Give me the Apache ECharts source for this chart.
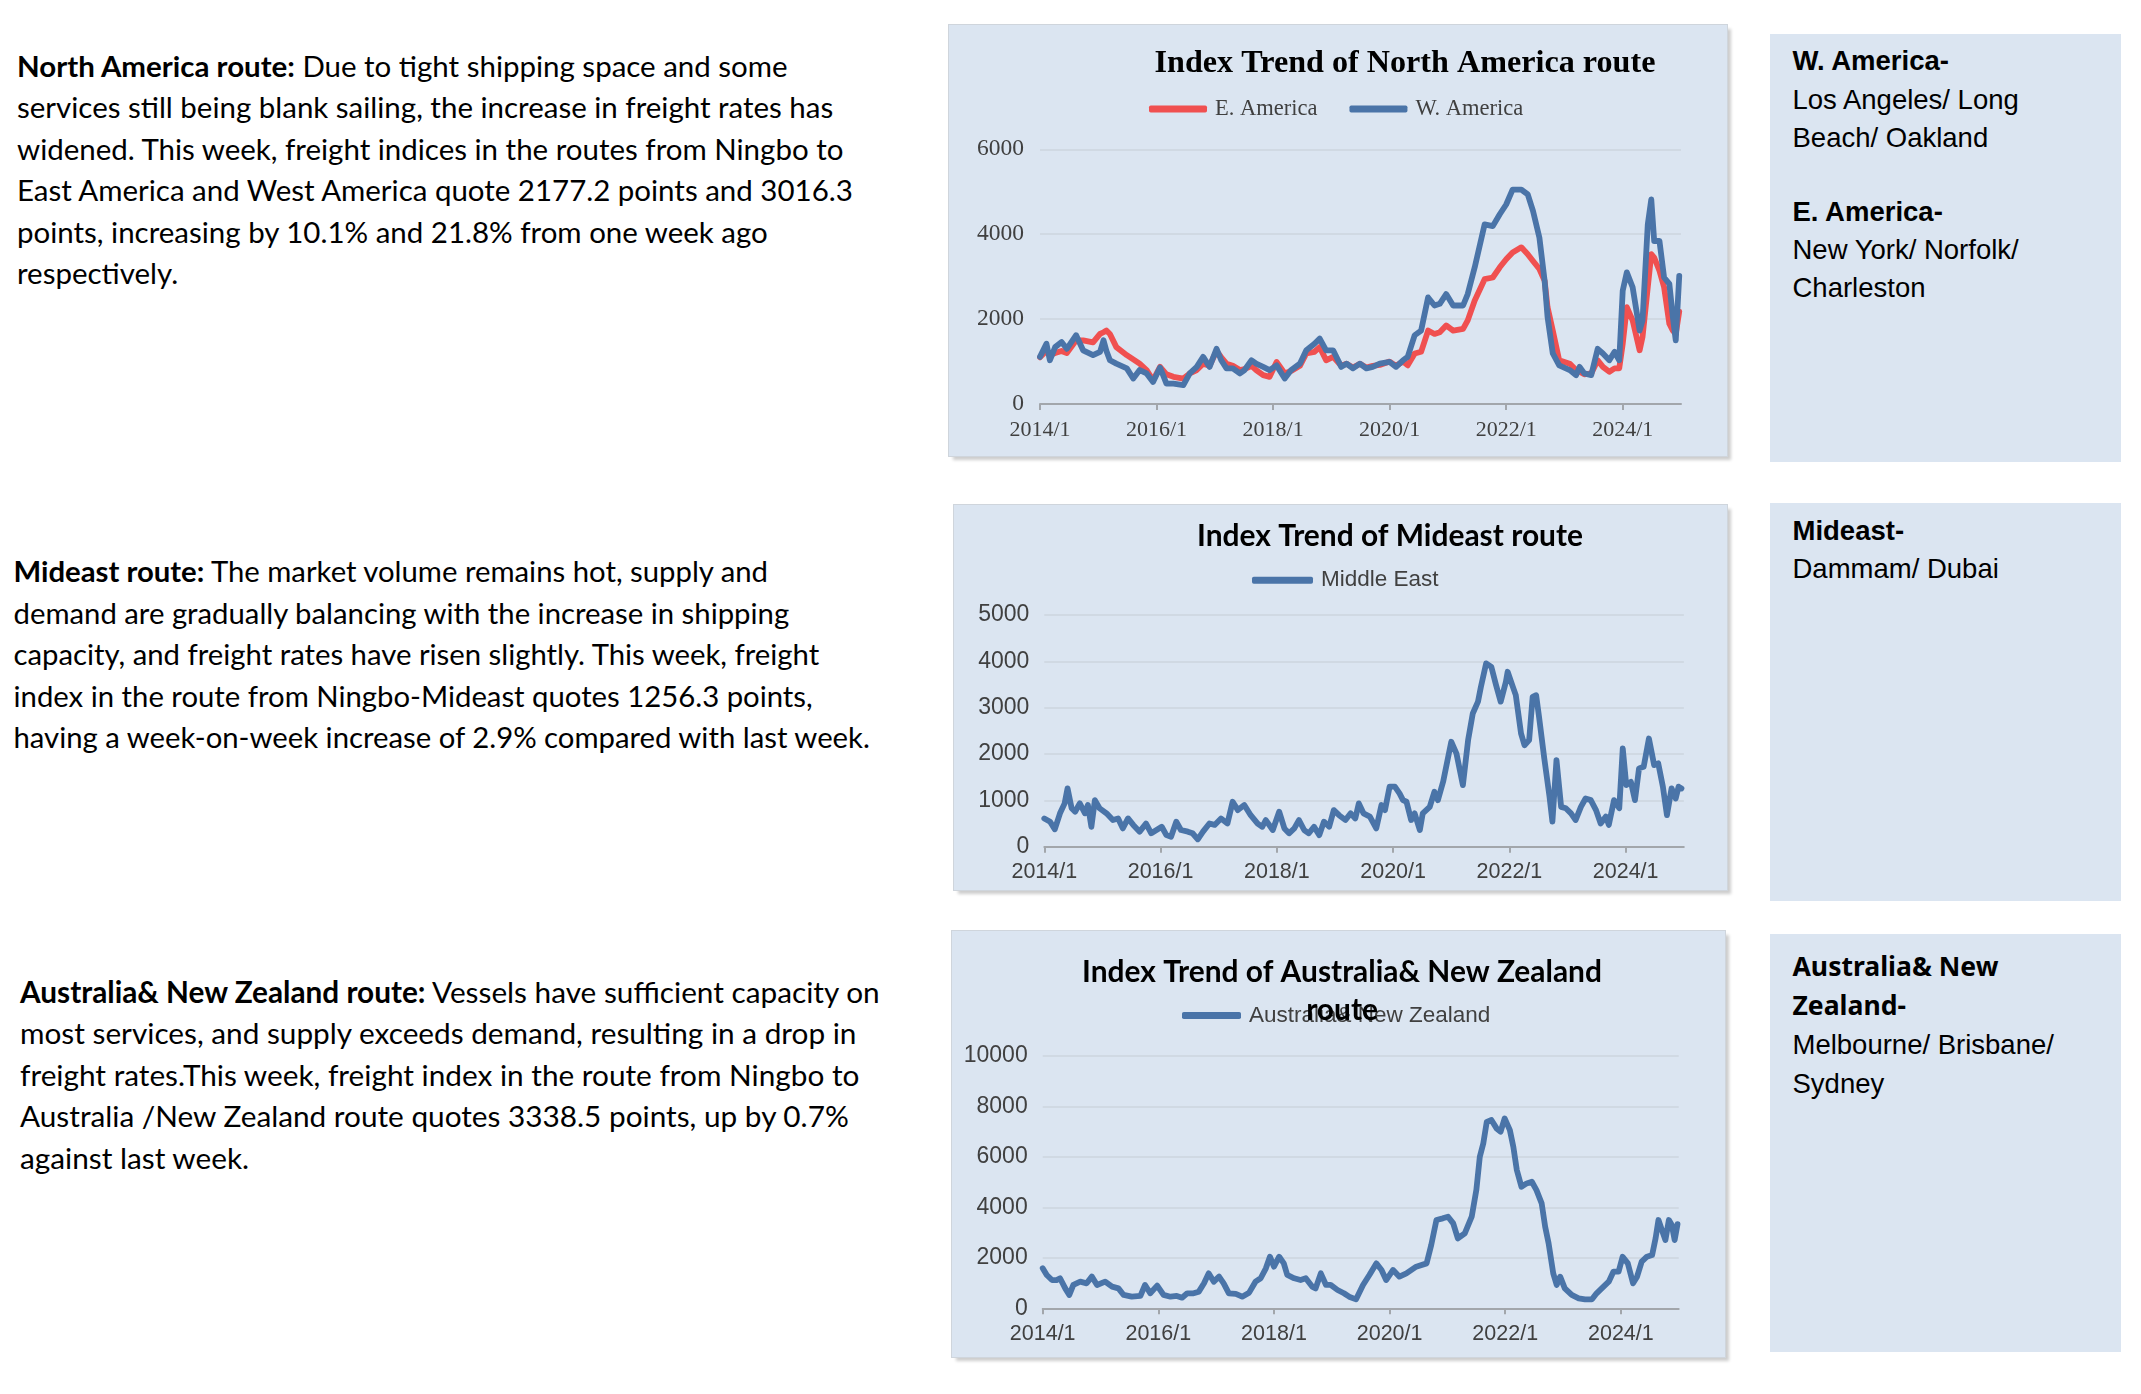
<!DOCTYPE html>
<html>
<head>
<meta charset="utf-8">
<script src="https://cdn.jsdelivr.net/npm/echarts@6/dist/echarts.min.js"></script>
<style>
html,body{margin:0;padding:0;background:#ffffff;width:2141px;height:1394px;overflow:hidden;position:relative;}
.para{position:absolute;font-family:Lato,'Liberation Sans',sans-serif;color:#000;line-height:41.5px;white-space:nowrap;font-size:27px;}
.para b{font-weight:700;}
.panel{position:absolute;background:#dbe5f1;box-shadow:0 0 0 1px #cfd5dc,4px 4px 3px rgba(0,0,0,0.20);}
.box{position:absolute;background:#dbe5f1;}
.box .t{position:absolute;left:23px;font-family:'Liberation Sans',Arial,sans-serif;font-size:27.5px;color:#000;white-space:nowrap;}
.box .t b{font-weight:700;}
</style>
</head>
<body>

<div class="para" id="p1" style="left:17px;top:44.7px;">
<div><span><b>North America route:</b> Due to tight shipping space and some</span></div>
<div><span>services still being blank sailing, the increase in freight rates has</span></div>
<div><span>widened. This week, freight indices in the routes from Ningbo to</span></div>
<div><span>East America and West America quote 2177.2 points and 3016.3</span></div>
<div><span>points, increasing by 10.1% and 21.8% from one week ago</span></div>
<div><span>respectively.</span></div>
</div>

<div class="para" id="p2" style="left:13.5px;top:550px;">
<div><span><b>Mideast route:</b> The market volume remains hot, supply and</span></div>
<div><span>demand are gradually balancing with the increase in shipping</span></div>
<div><span>capacity, and freight rates have risen slightly. This week, freight</span></div>
<div><span>index in the route from Ningbo-Mideast quotes 1256.3 points,</span></div>
<div><span>having a week-on-week increase of 2.9% compared with last week.</span></div>
</div>

<div class="para" id="p3" style="left:20px;top:970.5px;">
<div><span><b>Australia&amp; New Zealand route:</b>  Vessels have sufficient capacity on</span></div>
<div><span>most services, and supply exceeds demand, resulting in a drop in</span></div>
<div><span>freight rates.This week, freight index in the route from Ningbo to</span></div>
<div><span>Australia /New Zealand route quotes 3338.5 points, up by 0.7%</span></div>
<div><span>against last week.</span></div>
</div>

<div class="panel" id="c1" style="left:949px;top:25px;width:778px;height:431px;"></div>
<div class="panel" id="c2" style="left:954px;top:505px;width:773px;height:385px;"></div>
<div class="panel" id="c3" style="left:952px;top:931px;width:773px;height:426px;"></div>

<div class="box" style="left:1769.5px;top:34px;width:351px;height:427.5px;">
  <div class="t" style="top:8.3px;line-height:38.3px;"><b>W. America-</b><br>Los Angeles/ Long<br>Beach/ Oakland</div>
  <div class="t" style="top:158.5px;line-height:38.3px;"><b>E. America-</b><br>New York/ Norfolk/<br>Charleston</div>
</div>
<div class="box" style="left:1769.5px;top:502.5px;width:351px;height:398.5px;">
  <div class="t" style="top:9.3px;line-height:38.4px;"><b>Mideast-</b><br>Dammam/ Dubai</div>
</div>
<div class="box" style="left:1769.5px;top:934px;width:351px;height:417.7px;">
  <div class="t" style="top:13.2px;line-height:39px;"><b id="anzHead" style="font-family:'Noto Sans',sans-serif;">Australia&amp; New<br>Zealand-</b><br>Melbourne/ Brisbane/<br>Sydney</div>
</div>

<script>
// ---------------- DATA ----------------
const xTickYears  = [2014, 2016, 2018, 2020, 2022, 2024];
const xTickLabels = ['2014/1', '2016/1', '2018/1', '2020/1', '2022/1', '2024/1'];

// North America route (decimal-year positions of the readings)
const naTime = [
  2014.00,2014.11,2014.17,2014.26,2014.37,2014.46,2014.62,2014.74,2014.91,2015.03,
  2015.09,2015.14,2015.20,2015.31,2015.49,2015.60,2015.71,2015.83,2015.94,2016.06,
  2016.17,2016.29,2016.46,2016.57,2016.69,2016.80,2016.91,2017.03,2017.11,2017.20,
  2017.31,2017.43,2017.51,2017.63,2017.71,2017.83,2017.94,2018.06,2018.20,2018.31,
  2018.46,2018.57,2018.71,2018.80,2018.91,2019.03,2019.17,2019.26,2019.37,2019.49,
  2019.60,2019.71,2019.83,2020.00,2020.11,2020.23,2020.31,2020.43,2020.54,2020.66,
  2020.77,2020.86,2020.97,2021.09,2021.26,2021.34,2021.46,2021.63,2021.77,2021.89,
  2022.00,2022.11,2022.26,2022.37,2022.46,2022.57,2022.66,2022.71,2022.80,2022.91,
  2023.09,2023.20,2023.26,2023.34,2023.46,2023.57,2023.66,2023.77,2023.86,2023.94,
  2024.00,2024.07,2024.17,2024.29,2024.34,2024.43,2024.49,2024.54,2024.63,2024.71,
  2024.80,2024.86,2024.91,2024.97
];
const eastAmerica = [
  1100,1250,1150,1200,1250,1200,1500,1500,1450,1650,
  1690,1730,1650,1340,1150,1050,950,800,560,875,
  700,640,600,720,800,950,900,1250,1100,950,
  900,800,820,900,800,680,640,990,720,780,
  900,1190,1230,1340,1030,1110,900,950,860,950,
  860,900,920,1000,900,1000,910,1190,1230,1730,
  1650,1690,1850,1730,1770,1970,2440,2940,2980,3220,
  3410,3570,3690,3530,3370,3180,2900,2280,1730,1030,
  950,800,760,700,720,1030,875,760,840,840,
  1420,2280,1970,1265,1580,2750,3530,3450,3140,2750,
  1890,1730,1650,2177.2
];
const westAmerica = [
  1110,1420,1030,1340,1460,1300,1620,1265,1150,1230,
  1500,1250,1030,950,840,600,800,720,520,860,
  480,480,445,720,875,1110,875,1300,1030,840,
  840,720,800,1030,950,875,800,910,600,800,
  950,1265,1420,1540,1265,1265,875,950,840,950,
  840,875,950,990,875,1030,1110,1620,1730,2510,
  2320,2360,2590,2320,2320,2590,3220,4230,4190,4470,
  4700,5050,5050,4940,4550,3920,2900,2050,1190,910,
  800,680,875,720,680,1300,1190,1030,1230,1030,
  2670,3100,2750,1730,1970,4230,4820,3840,3840,2980,
  2830,2050,1500,3016.3
];

// Mideast route
const meTime = [
  2014.00,2014.10,2014.18,2014.27,2014.35,2014.40,2014.47,2014.53,2014.61,2014.70,
  2014.75,2014.81,2014.87,2014.95,2015.07,2015.18,2015.27,2015.35,2015.44,2015.53,
  2015.64,2015.75,2015.84,2015.93,2016.02,2016.10,2016.18,2016.27,2016.35,2016.47,
  2016.55,2016.64,2016.73,2016.84,2016.93,2017.04,2017.15,2017.24,2017.33,2017.44,
  2017.55,2017.67,2017.75,2017.81,2017.93,2018.04,2018.13,2018.21,2018.30,2018.38,
  2018.47,2018.55,2018.64,2018.73,2018.81,2018.90,2018.98,2019.07,2019.18,2019.27,
  2019.35,2019.41,2019.49,2019.60,2019.71,2019.80,2019.86,2019.94,2020.03,2020.11,
  2020.17,2020.23,2020.31,2020.37,2020.46,2020.51,2020.63,2020.71,2020.77,2020.86,
  2021.00,2021.09,2021.20,2021.29,2021.37,2021.46,2021.51,2021.60,2021.69,2021.77,
  2021.85,2021.94,2021.97,2022.06,2022.11,2022.20,2022.26,2022.34,2022.40,2022.46,
  2022.51,2022.60,2022.69,2022.74,2022.81,2022.89,2022.97,2023.06,2023.14,2023.23,
  2023.31,2023.40,2023.49,2023.57,2023.66,2023.71,2023.80,2023.89,2023.95,2024.01,
  2024.09,2024.16,2024.23,2024.31,2024.40,2024.49,2024.56,2024.64,2024.71,2024.79,
  2024.86,2024.91,2024.96
];
const middleEast = [
  610,540,375,720,935,1260,830,755,935,720,
  900,430,1005,830,720,575,610,395,610,470,
  325,500,290,360,430,250,215,540,360,325,
  290,160,325,500,470,610,500,970,790,900,
  680,500,430,575,360,755,395,290,395,575,
  360,290,430,250,540,430,790,680,575,720,
  610,935,720,650,395,900,790,1295,1295,1150,
  1005,970,575,720,360,720,860,1185,1005,1400,
  2265,2010,1330,2300,2875,3130,3450,3955,3880,3490,
  3130,3560,3775,3450,3270,2445,2190,2300,3235,3270,
  2800,1905,1080,540,1870,860,830,720,575,860,
  1040,1005,790,500,650,470,1005,830,2120,1330,
  1400,1005,1690,1725,2335,1760,1800,1295,680,1260,
  1040,1295,1256.3
];

// Australia & New Zealand route
const anzTime = [
  2014.00,2014.07,2014.16,2014.24,2014.30,2014.39,2014.46,2014.53,2014.65,2014.76,
  2014.85,2014.94,2015.08,2015.20,2015.31,2015.40,2015.54,2015.69,2015.77,2015.86,
  2015.98,2016.09,2016.21,2016.32,2016.41,2016.50,2016.61,2016.70,2016.79,2016.87,
  2016.96,2017.05,2017.13,2017.22,2017.34,2017.45,2017.57,2017.68,2017.77,2017.86,
  2017.93,2018.00,2018.09,2018.17,2018.23,2018.35,2018.46,2018.55,2018.66,2018.72,
  2018.81,2018.90,2018.98,2019.10,2019.21,2019.30,2019.42,2019.54,2019.65,2019.77,
  2019.86,2019.94,2020.06,2020.17,2020.29,2020.46,2020.64,2020.72,2020.81,2020.92,
  2021.01,2021.10,2021.18,2021.30,2021.42,2021.50,2021.56,2021.62,2021.68,2021.76,
  2021.85,2021.92,2021.99,2022.08,2022.14,2022.20,2022.28,2022.37,2022.46,2022.54,
  2022.63,2022.69,2022.75,2022.83,2022.89,2022.95,2023.03,2023.15,2023.27,2023.38,
  2023.50,2023.58,2023.70,2023.79,2023.87,2023.96,2024.03,2024.12,2024.21,2024.28,
  2024.36,2024.45,2024.54,2024.60,2024.65,2024.71,2024.77,2024.83,2024.88,2024.93,
  2024.98
];
const australiaNZ = [
  1585,1320,1120,1120,1190,790,530,925,1055,990,
  1255,925,1055,860,790,530,460,490,925,595,
  900,530,460,490,420,595,595,660,990,1385,
  1055,1255,990,595,570,460,620,1055,1190,1585,
  2045,1650,2045,1780,1320,1190,1120,1190,860,790,
  1385,925,925,725,595,460,355,925,1320,1780,
  1520,1120,1520,1255,1385,1650,1780,2510,3500,3565,
  3630,3365,2770,2970,3630,4685,6005,6530,7390,7460,
  7130,7000,7525,7060,6400,5480,4820,4950,5015,4685,
  4160,3235,2575,1385,925,1255,790,530,395,355,
  355,595,860,1055,1450,1450,2045,1780,990,1255,
  1850,2045,2110,2770,3500,3100,2705,3500,3300,2705,
  3338.5
];

// ---------------- LAYOUT HELPERS ----------------
const mctx = document.createElement('canvas').getContext('2d');
function textW(text, family, weight, size) {
  mctx.font = weight + ' ' + size + 'px ' + family;
  return mctx.measureText(text).width;
}
function fitSize(text, family, weight, target) {
  return 100 * target / textW(text, family, weight, 100);
}

// fit paragraph font sizes to the widths measured on the reference
function fitPara(id, lineIdx, target) {
  const el = document.getElementById(id);
  const span = el.querySelectorAll('span')[lineIdx];
  const w = span.getBoundingClientRect().width;
  const fs = parseFloat(getComputedStyle(el).fontSize);
  el.style.fontSize = (fs * target / w) + 'px';
}
fitPara('p1', 0, 771);
fitPara('p2', 4, 857);
fitPara('p3', 0, 860);
(function(){
  const h = document.getElementById('anzHead');
  const s = fitSize('Australia& New', "'Noto Sans'", 'bold', 206);
  h.style.fontSize = s + 'px';
})();

const BLUE = '#4a74a8';
const RED = '#f05050';

function buildChart(id, o) {
  const chart = echarts.init(document.getElementById(id));
  const series = o.series.map(s => ({
    name: s.name,
    type: 'line',
    symbol: 'none',
    showSymbol: false,
    data: s.t.map((t, i) => [t, s.v[i]]),
    lineStyle: { color: s.color, width: 5.8, join: 'round', cap: 'round' },
    itemStyle: { color: s.color },
    emphasis: { disabled: true },
    z: s.z
  }));
  const graphics = o.titles.map(t => ({
    type: 'text', x: t.x, y: t.y, z: 100, silent: true,
    style: {
      text: t.text, fill: '#000', align: 'center', verticalAlign: 'middle',
      fontFamily: t.family, fontWeight: 'bold', fontSize: t.size
    }
  }));
  chart.setOption({
    animation: false,
    backgroundColor: 'transparent',
    grid: { left: o.grid[0], top: o.grid[1], width: o.grid[2], height: o.grid[3], containLabel: false },
    xAxis: {
      type: 'value', min: 2014, max: 2025, interval: 2,
      axisLine: { show: true, lineStyle: { color: '#a2a6ab', width: 2 } },
      axisTick: { show: true, length: 6, customValues: xTickYears, lineStyle: { color: '#a2a6ab', width: 2 } },
      axisLabel: {
        customValues: xTickYears,
        formatter: v => xTickLabels[xTickYears.indexOf(v)] || '',
        color: '#404040', fontFamily: o.font, fontSize: o.xSize, margin: o.xMargin
      },
      splitLine: { show: false }
    },
    yAxis: {
      type: 'value', min: 0, max: o.yMax, interval: o.yInterval,
      axisLine: { show: false }, axisTick: { show: false },
      axisLabel: { color: '#404040', fontFamily: o.font, fontSize: o.ySize, margin: o.yMargin,
                   formatter: v => String(v) },
      splitLine: { show: true, lineStyle: { color: '#ccd4de', width: 1.5 } }
    },
    legend: {
      data: o.series.map(s => s.name),
      left: o.legend.left, top: o.legend.cy - o.legend.size * 0.62,
      icon: 'roundRect', itemWidth: o.legend.iconW, itemHeight: 7, itemGap: o.legend.gap,
      selectedMode: false,
      textStyle: { fontFamily: o.font, fontSize: o.legend.size, color: '#404040', padding: [0, 0, 0, 3] }
    },
    graphic: graphics,
    series: series
  });
  return chart;
}

const SERIF = "'Liberation Serif'";
const SANS = "'Liberation Sans'";

buildChart('c1', {
  font: SERIF,
  grid: [91, 124.3, 641, 254.7],
  yMax: 6000, yInterval: 2000,
  xSize: 22, ySize: 23.5, xMargin: 15, yMargin: 16,
  legend: { left: 195, cy: 81.5, iconW: 58, gap: 32, size: 22.5 },
  titles: [{ text: 'Index Trend of North America route', x: 456, y: 39, family: SERIF,
             size: fitSize('Index Trend of North America route', SERIF, 'bold', 501) }],
  series: [
    { name: 'E. America', t: naTime, v: eastAmerica, color: RED, z: 2 },
    { name: 'W. America', t: naTime, v: westAmerica, color: BLUE, z: 3 }
  ]
});

buildChart('c2', {
  font: SANS,
  grid: [90.3, 110, 639.5, 231.7],
  yMax: 5000, yInterval: 1000,
  xSize: 21.5, ySize: 23, xMargin: 14, yMargin: 15,
  legend: { left: 293, cy: 72.6, iconW: 61, gap: 20, size: 22.5 },
  titles: [{ text: 'Index Trend of Mideast route', x: 436, y: 31.6, family: 'Lato',
             size: fitSize('Index Trend of Mideast route', 'Lato', 'bold', 386) }],
  series: [
    { name: 'Middle East', t: meTime, v: middleEast, color: BLUE, z: 2 }
  ]
});

const t3size = fitSize('Index Trend of Australia& New Zealand', 'Lato', 'bold', 520);
buildChart('c3', {
  font: SANS,
  grid: [90.7, 125, 636, 252.3],
  yMax: 10000, yInterval: 2000,
  xSize: 21.5, ySize: 23, xMargin: 15, yMargin: 15,
  legend: { left: 225, cy: 82, iconW: 59, gap: 20, size: 22.5 },
  titles: [
    { text: 'Index Trend of Australia& New Zealand', x: 390, y: 41, family: 'Lato', size: t3size },
    { text: 'route', x: 390, y: 79, family: 'Lato', size: t3size }
  ],
  series: [
    { name: 'Australia& New Zealand', t: anzTime, v: australiaNZ, color: BLUE, z: 2 }
  ]
});
</script>
</body>
</html>
